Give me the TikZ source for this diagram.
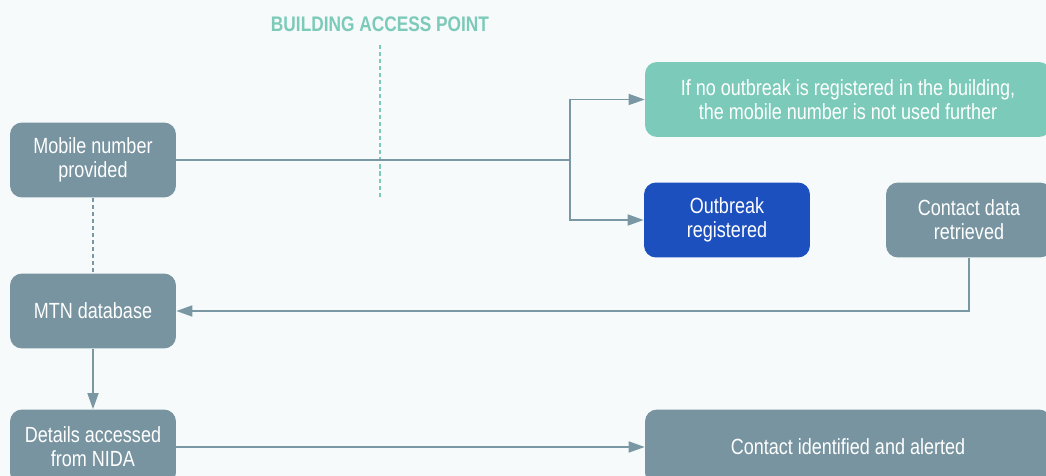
\documentclass[tikz,border=0pt]{standalone}
\usepackage{fontspec}
\setmainfont{Liberation Sans}[FakeStretch=0.82]
\usetikzlibrary{arrows.meta}

\definecolor{slate}{HTML}{7794A0}
\definecolor{mint}{HTML}{7CCAB9}
\definecolor{royal}{HTML}{1D50BF}
\definecolor{wire}{HTML}{7A97A4}
\definecolor{paper}{HTML}{F6FAFA}

\tikzstyle{box}=[shape=rectangle,
	       rounded corners=0.24cm,
	       fill=slate,
	       text=white,
	       align=center,
	       minimum width=3.32cm,
	       minimum height=1.5cm,
	       font=\fontsize{12.5}{13.6}\selectfont]
\tikzstyle{line}=[draw=wire, line width=0.9pt]
\tikzstyle{link}=[line, -{Triangle[length=0.32cm,width=0.22cm]}]

\begin{document}
\begin{tikzpicture}[x=0.02cm, y=-0.02cm]
\useasboundingbox[fill=paper] (0,0) rectangle (1046,476);

% access point heading and its dashed marker
\node[text=mint, font=\bfseries\fontsize{12}{13}\selectfont] (access) at (380,24) {BUILDING ACCESS POINT};
\coordinate (gatetop) at (380,45);
\coordinate (gatebot) at (380,197);
\draw[draw=mint, line width=0.9pt, dash pattern=on 2.3pt off 1.7pt] (gatetop) -- (gatebot);

% left column
\node[box] (mobile) at (93,160) {Mobile number\\provided};
\node[box] (mtn) at (93,311) {MTN database};
\node[box] (nida) at (93,447) {Details accessed\\from NIDA};

% right side, wide boxes run off the edge
\node[box, fill=mint, minimum width=8.12cm] (nouse) at (848,99.5) {If no outbreak is registered in the building,\\the mobile number is not used further};
\node[box, fill=royal] (outbreak) at (727,220) {Outbreak\\registered};
\node[box] (retrieved) at (969,220) {Contact data\\retrieved};
\node[box, minimum width=8.12cm] (alerted) at (848,447) {Contact identified and alerted};

% branch after the access point
\coordinate (fork) at (570,160);
\draw[line] (mobile) -- (fork);
\draw[link] (fork) |- (nouse);
\draw[link] (fork) |- (outbreak);

% lookup chain
\draw[line, dash pattern=on 2.3pt off 1.7pt] (mobile) -- (mtn);
\draw[link] (retrieved) |- (mtn);
\draw[link] (mtn) -- (nida);
\draw[link] (nida) -- (alerted);

\end{tikzpicture}
\end{document}
